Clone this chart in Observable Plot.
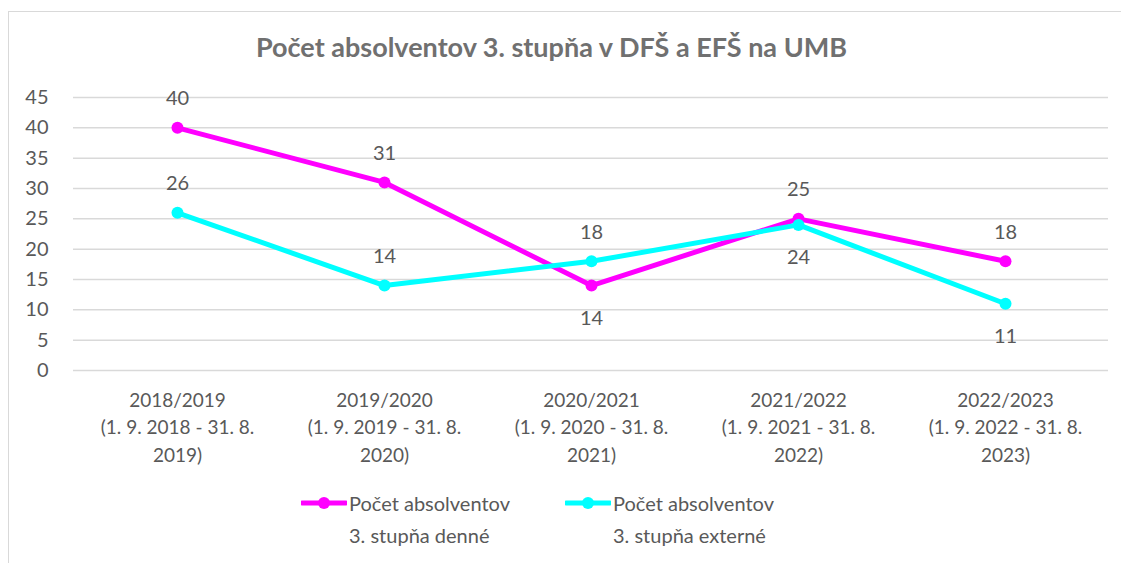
<!DOCTYPE html>
<html><head><meta charset="utf-8">
<script src="https://cdn.jsdelivr.net/npm/d3@7"></script>
<script src="https://cdn.jsdelivr.net/npm/@observablehq/plot@0.6"></script>
<style>
body{margin:0;background:#fff;font-family:Lato,sans-serif;}
#wrap{position:relative;width:1121px;height:563px;overflow:hidden;}
#frame{position:absolute;left:8px;top:11px;width:1200px;height:600px;border-left:1px solid #d9d9d9;border-top:1px solid #d9d9d9;}
#title{position:absolute;left:0;width:1103px;top:30px;text-align:center;font-weight:bold;font-size:27px;color:#707070;white-space:nowrap;}
#chart{position:absolute;left:0;top:0;}
.legItem{position:absolute;top:487px;height:70px;}
.legItem svg{position:absolute;left:0;top:6px;}
.legItem div{position:absolute;left:48px;top:0;font-size:20px;color:#595959;line-height:32px;white-space:pre;}
</style></head>
<body>
<div id="wrap">
  <div id="frame"></div>
  <div id="title"></div>
  <div id="chart"></div>
  <div id="legend"></div>
</div>
<script>
const title = "Počet absolventov 3. stupňa v DFŠ a EFŠ na UMB";
const categories = ["2018/2019","2019/2020","2020/2021","2021/2022","2022/2023"];
const periodLabels = ["(1. 9. 2018 - 31. 8.\n2019)","(1. 9. 2019 - 31. 8.\n2020)","(1. 9. 2020 - 31. 8.\n2021)","(1. 9. 2021 - 31. 8.\n2022)","(1. 9. 2022 - 31. 8.\n2023)"];
const denne = [40, 31, 14, 25, 18];
const externe = [26, 14, 18, 24, 11];
const yTicks = [0, 5, 10, 15, 20, 25, 30, 35, 40, 45];
const seriesNames = ["Počet absolventov 3. stupňa denné", "Počet absolventov 3. stupňa externé"];
const legendLabels = ["Počet absolventov\n3. stupňa denné", "Počet absolventov\n3. stupňa externé"];
const colors = ["#ff00ff", "#00ffff"];
// which labels sit below their point
const denneBelow = ["2020/2021"];
const externeBelow = ["2021/2022", "2022/2023"];

document.getElementById("title").textContent = title;

const rows = [];
categories.forEach((c, i) => {
  rows.push({cat: c, value: denne[i], series: seriesNames[0], below: denneBelow.includes(c)});
  rows.push({cat: c, value: externe[i], series: seriesNames[1], below: externeBelow.includes(c)});
});
const xLabels = categories.map((c, i) => ({cat: c, label: c + "\n" + periodLabels[i]}));

const plot = Plot.plot({
  width: 1121,
  height: 480,
  marginTop: 97,
  marginBottom: 110,
  marginLeft: 73,
  marginRight: 13,
  style: {fontFamily: "Lato, sans-serif", fontSize: "20px", color: "#595959", background: "transparent", overflow: "visible"},
  x: {type: "point", domain: categories, padding: 0.5, axis: null},
  y: {domain: [0, 45]},
  color: {domain: seriesNames, range: colors},
  marks: [
    Plot.ruleY(yTicks, {stroke: "#d9d9d9", strokeWidth: 1.5}),
    Plot.axisY({ticks: yTicks, tickSize: 0, tickPadding: 25, label: null, fontSize: 20}),
    Plot.text(xLabels, {x: "cat", text: "label", frameAnchor: "bottom", lineAnchor: "middle", dy: 55, lineHeight: 1.47, fontSize: 19, fill: "#595959"}),
    Plot.line(rows, {x: "cat", y: "value", z: "series", stroke: "series", strokeWidth: 5, strokeLinejoin: "round"}),
    Plot.dot(rows, {x: "cat", y: "value", fill: "series", r: 6}),
    Plot.text(rows.filter(d => !d.below), {x: "cat", y: "value", text: d => String(d.value), dy: -29, fontSize: 20, fill: "#595959"}),
    Plot.text(rows.filter(d => d.below), {x: "cat", y: "value", text: d => String(d.value), dy: 33, fontSize: 20, fill: "#595959"})
  ]
});
document.getElementById("chart").appendChild(plot);

const legend = document.getElementById("legend");
const legLeft = [301, 565];
seriesNames.forEach((s, i) => {
  const item = document.createElement("div");
  item.className = "legItem";
  item.style.left = legLeft[i] + "px";
  item.innerHTML = `<svg width="46" height="20"><line x1="1" y1="10" x2="45" y2="10" stroke="${colors[i]}" stroke-width="5" stroke-linecap="round"/><circle cx="23" cy="10" r="6" fill="${colors[i]}"/></svg>`;
  const t = document.createElement("div");
  t.textContent = legendLabels[i];
  item.appendChild(t);
  legend.appendChild(item);
});
</script>
</body></html>
